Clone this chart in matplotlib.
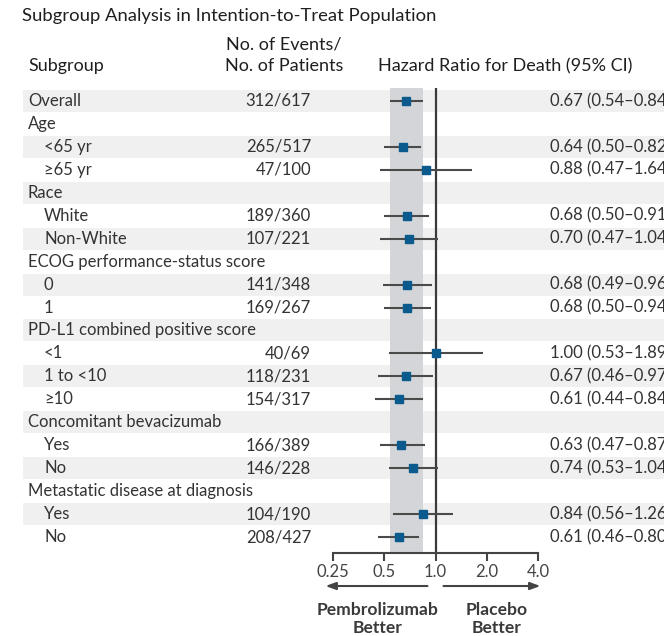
import matplotlib
matplotlib.use('Agg')
import matplotlib.pyplot as plt
import matplotlib.transforms as mtransforms
from matplotlib.patches import Rectangle

plt.rcParams['font.family'] = ['Lato', 'DejaVu Sans']

# rows: label, indented?, events/patients, hr, lo, hi (None for group headings)
labels = ['Overall', 'Age', '<65 yr', '\u226565 yr', 'Race', 'White', 'Non-White',
          'ECOG performance-status score', '0', '1',
          'PD-L1 combined positive score', '<1', '1 to <10', '\u226510',
          'Concomitant bevacizumab', 'Yes', 'No',
          'Metastatic disease at diagnosis', 'Yes', 'No']
indent = [0, 0, 1, 1, 0, 1, 1, 0, 1, 1, 0, 1, 1, 1, 0, 1, 1, 0, 1, 1]
events = ['312/617', '', '265/517', '47/100', '', '189/360', '107/221', '',
          '141/348', '169/267', '', '40/69', '118/231', '154/317', '',
          '166/389', '146/228', '', '104/190', '208/427']
hr = [0.67, None, 0.64, 0.88, None, 0.68, 0.70, None, 0.68, 0.68, None,
      1.00, 0.67, 0.61, None, 0.63, 0.74, None, 0.84, 0.61]
lo = [0.54, None, 0.50, 0.47, None, 0.50, 0.47, None, 0.49, 0.50, None,
      0.53, 0.46, 0.44, None, 0.47, 0.53, None, 0.56, 0.46]
hi = [0.84, None, 0.82, 1.64, None, 0.91, 1.04, None, 0.96, 0.94, None,
      1.89, 0.97, 0.84, None, 0.87, 1.04, None, 1.26, 0.80]
ticks = [0.25, 0.5, 1.0, 2.0, 4.0]
tick_labels = ['0.25', '0.5', '1.0', '2.0', '4.0']

W, H = 664, 636
txt = '#333333'
fs = 12
fig = plt.figure(figsize=(W / 100, H / 100), dpi=100)
ax = fig.add_axes([333 / W, 1 - 553 / H, 205 / W, 465 / H])
ax.set_facecolor('none')
ax.set_xscale('log')
ax.set_xlim(0.25, 4.0)
n = len(labels)
ax.set_ylim(n - 1 + 16 / 22.95, -13 / 22.95)

tr = mtransforms.blended_transform_factory(fig.transFigure, ax.transData)

for i in range(n):
    if i % 2 == 0:
        ax.add_patch(Rectangle((23 / W, i - 0.48), 1.0, 0.96, transform=tr,
                               facecolor='#f0f0f0', edgecolor='none',
                               clip_on=False, zorder=0))
    x = 44 if indent[i] else 28
    ax.text(x / W, i, labels[i], transform=tr, ha='left', va='center',
            fontsize=fs, color=txt)
    if events[i]:
        ax.text(311 / W, i, events[i], transform=tr, ha='right', va='center',
                fontsize=fs, color=txt)
    if hr[i] is not None:
        s = '%.2f (%.2f\u2013%.2f)' % (hr[i], lo[i], hi[i])
        ax.text(550 / W, i, s, transform=tr, ha='left', va='center',
                fontsize=fs, color=txt, clip_on=False)
        ax.plot([lo[i], hi[i]], [i, i], color='#4a4a4a', lw=1.5,
                zorder=3, solid_capstyle='butt')
        ax.plot(hr[i], i, marker='s', ms=6, color='#0b5a8e', zorder=4)

ax.axvspan(lo[0], hi[0], color='#d3d5d8', zorder=1, lw=0)
ax.axvline(1.0, color='#3a3a3a', lw=1.6, zorder=2)

for side in ['top', 'right', 'left']:
    ax.spines[side].set_visible(False)
ax.spines['bottom'].set_color('#444444')
ax.spines['bottom'].set_linewidth(1.5)
ax.set_yticks([])
ax.set_xticks(ticks)
ax.set_xticklabels(tick_labels)
ax.minorticks_off()
ax.tick_params(axis='x', direction='out', length=6, width=1.5,
               color='#444444', labelsize=fs, labelcolor='#444444', pad=2)

xt = ax.get_xaxis_transform()
ax.annotate('', xy=(0.226, -0.071), xytext=(0.897, -0.071), xycoords=xt,
            arrowprops=dict(arrowstyle='-|>,head_length=0.6,head_width=0.22',
                            color='#444444', lw=1.5, shrinkA=0, shrinkB=0))
ax.annotate('', xy=(4.13, -0.071), xytext=(1.114, -0.071), xycoords=xt,
            arrowprops=dict(arrowstyle='-|>,head_length=0.6,head_width=0.22',
                            color='#444444', lw=1.5, shrinkA=0, shrinkB=0))
ax.text(0.456, -0.142, 'Pembrolizumab\nBetter', transform=xt, ha='center',
        va='center', fontsize=12.6, fontweight='bold', color='#3a3a3a',
        linespacing=1.2)
ax.text(2.28, -0.142, 'Placebo\nBetter', transform=xt, ha='center',
        va='center', fontsize=12.6, fontweight='bold', color='#3a3a3a',
        linespacing=1.2)

hfs = 13
hc = '#1f1f1f'
fig.text(22 / W, 1 - 16 / H, 'Subgroup Analysis in Intention-to-Treat Population',
         ha='left', va='center', fontsize=13.3, color=hc)
fig.text(28 / W, 1 - 66 / H, 'Subgroup', ha='left', va='center',
         fontsize=hfs, color=hc)
fig.text(284 / W, 1 - 44 / H, 'No. of Events/', ha='center', va='center',
         fontsize=hfs, color=hc)
fig.text(284 / W, 1 - 66 / H, 'No. of Patients', ha='center', va='center',
         fontsize=hfs, color=hc)
fig.text(378 / W, 1 - 66 / H, 'Hazard Ratio for Death (95% CI)', ha='left',
         va='center', fontsize=hfs, color=hc)

fig.savefig('out.png', dpi=100, facecolor='white')
